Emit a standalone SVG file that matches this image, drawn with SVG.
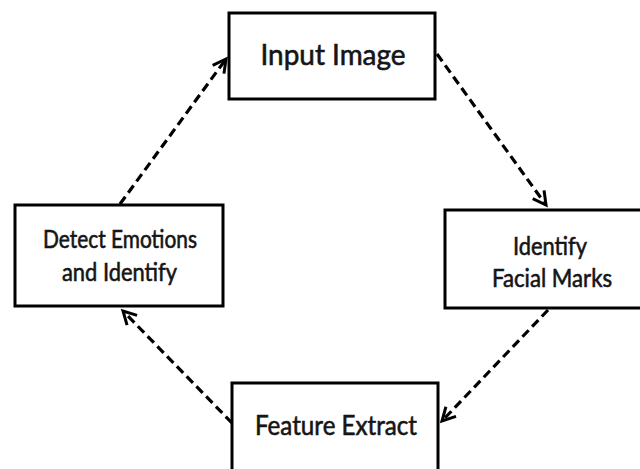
<svg xmlns="http://www.w3.org/2000/svg" width="640" height="469" viewBox="0 0 640 469">
  <style>
    .box { fill: #ffffff; stroke: #000000; stroke-width: 3; }
    .label { font-family: "Lato", "Liberation Sans", sans-serif; fill: #151515; stroke: #151515; stroke-width: 0.6; text-anchor: middle; }
    .flow { fill: none; stroke: #000000; stroke-width: 3.2; stroke-dasharray: 9 5; }
  </style>
  <defs>
    <marker id="open-arrow" markerUnits="userSpaceOnUse" markerWidth="20" markerHeight="20" viewBox="-16 -10 20 20" refX="0" refY="0" orient="auto">
      <path d="M -13 -7 L 0 0 L -13 7" fill="none" stroke="#000000" stroke-width="3" stroke-linejoin="miter"/>
    </marker>
  </defs>
  <rect width="640" height="469" fill="#ffffff"/>

  <g id="connectors">
    <line class="flow" x1="437" y1="54" x2="546" y2="205" marker-end="url(#open-arrow)"/>
    <line class="flow" x1="548" y1="310" x2="442" y2="421" marker-end="url(#open-arrow)"/>
    <line class="flow" x1="232" y1="423" x2="123" y2="311" marker-end="url(#open-arrow)"/>
    <line class="flow" x1="120" y1="204" x2="226" y2="59" marker-end="url(#open-arrow)"/>
  </g>

  <g id="input-image">
    <rect class="box" x="229" y="13" width="206" height="86"/>
    <text class="label" x="333" y="65" font-size="29" textLength="145" lengthAdjust="spacingAndGlyphs">Input Image</text>
  </g>

  <g id="identify-facial-marks">
    <rect class="box" x="445" y="210" width="210" height="98"/>
    <text class="label" x="550" y="255" font-size="25" textLength="74" lengthAdjust="spacingAndGlyphs">Identify</text>
    <text class="label" x="552" y="287" font-size="25" textLength="120" lengthAdjust="spacingAndGlyphs">Facial Marks</text>
  </g>

  <g id="feature-extract">
    <rect class="box" x="232" y="383" width="206" height="100"/>
    <text class="label" x="336" y="435" font-size="27" textLength="162" lengthAdjust="spacingAndGlyphs">Feature Extract</text>
  </g>

  <g id="detect-emotions">
    <rect class="box" x="15" y="205" width="208" height="101"/>
    <text class="label" x="120" y="248" font-size="25" textLength="154" lengthAdjust="spacingAndGlyphs">Detect Emotions</text>
    <text class="label" x="119.5" y="281" font-size="25" textLength="115" lengthAdjust="spacingAndGlyphs">and Identify</text>
  </g>
</svg>
